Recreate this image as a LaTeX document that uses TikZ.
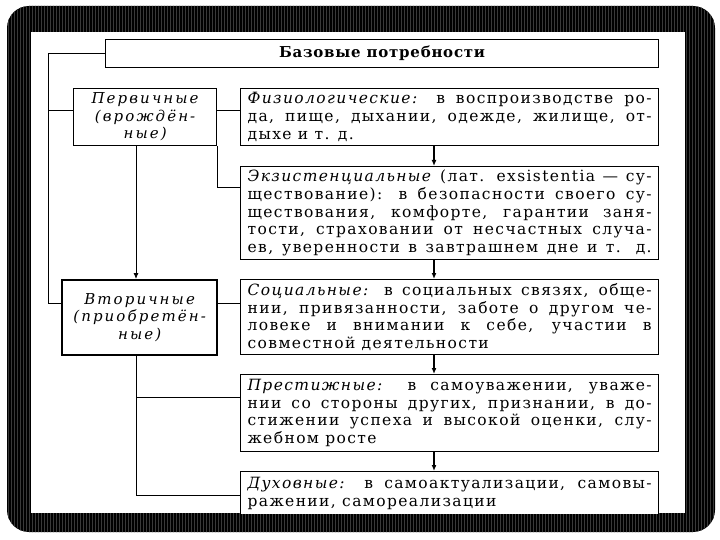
\documentclass[tikz,border=0pt]{standalone}
\usepackage{fontspec}
\setmainfont{DejaVu Serif}[LetterSpace=9]
\newfontfamily\sidefont{DejaVu Serif}[LetterSpace=14]
\newfontfamily\headfont{DejaVu Serif}[LetterSpace=5]
\usetikzlibrary{arrows.meta}
\newlength\jw
\setlength\jw{404pt}
\newcommand\jline[1]{\leavevmode\hbox to\jw{#1}}
\newcommand\bodyfont{\fontsize{15.5}{17.7}\selectfont}

\begin{document}
\begin{tikzpicture}[
    x=1pt, y=-1pt,
    titlebox/.style={
        draw, line width=1.2pt,
        anchor=north west,
        minimum width=553pt, minimum height=28pt,
        font=\headfont\bfseries\fontsize{15}{17}\selectfont
    },
    needbox/.style={
        draw, line width=1.2pt, fill=white,
        anchor=north west,
        text width=404pt,
        inner xsep=7pt, inner ysep=0pt,
        align=justify,
        font=\bodyfont
    },
    sidebox/.style={
        draw, line width=1.2pt, fill=white,
        anchor=north west,
        inner sep=0pt,
        align=center,
        font=\sidefont\itshape\fontsize{15}{17.5}\selectfont
    },
    link/.style={line width=0.9pt},
    thinarrow/.style={line width=0.9pt, -{Latex[length=6pt,width=5pt]}},
    flow/.style={line width=2pt, -{Latex[length=6pt,width=5pt]}}
]
\useasboundingbox (0,0) rectangle (720,540);

\begin{scope}
\clip[rounded corners=22pt] (7,6) rectangle (715,532);
\fill[black] (0,0) rectangle (720,540);
\foreach \sx in {8,11,...,714}
    \draw[gray!45!black, line width=1pt] (\sx,0) -- (\sx,540);
\end{scope}
\fill[white] (31,32) rectangle (685,513);

\begin{scope}
\clip (31,32) rectangle (685,513);
\node[titlebox] (base) at (105,39) {Базовые потребности};

\node[sidebox, minimum width=143pt, minimum height=57pt, text width=135pt]
    (perv) at (73,88) {Первичные\\(врождён-\\ные)};
\node[sidebox, minimum width=155pt, minimum height=75pt, text width=147pt,
    line width=2.2pt] (vtor) at (61,279) {Вторичные\\(приобретён-\\ные)};

\node[needbox, minimum height=57pt] (fiz) at (240,88) {%
    \jline{\textit{Физиологические:} в воспроизводстве ро-}\\
    \jline{да, пище, дыхании, одежде, жилище, от-}\\
    дыхе и т. д.};
\node[needbox, minimum height=93pt] (ekz) at (240,166) {%
    \jline{\textit{Экзистенциальные} (лат. exsistentia — су-}\\
    \jline{ществование): в безопасности своего су-}\\
    \jline{ществования, комфорте, гарантии заня-}\\
    \jline{тости, страховании от несчастных случа-}\\
    \jline{ев, уверенности в завтрашнем дне и т. д.}};
\node[needbox, minimum height=75pt] (soc) at (240,279) {%
    \jline{\textit{Социальные:} в социальных связях, обще-}\\
    \jline{нии, привязанности, заботе о другом че-}\\
    \jline{ловеке и внимании к себе, участии в}\\
    совместной деятельности};
\node[needbox, minimum height=77pt] (prest) at (240,374) {%
    \jline{\textit{Престижные:} в самоуважении, уваже-}\\
    \jline{нии со стороны других, признании, в до-}\\
    \jline{стижении успеха и высокой оценки, слу-}\\
    жебном росте};
\node[needbox, minimum height=44pt] (dukh) at (240,471) {%
    \jline{\textit{Духовные:} в самоактуализации, самовы-}\\
    ражении, самореализации};

\coordinate (spine) at (48,0);
\coordinate (trunk) at (136,0);
\coordinate (stem) at (434,0);
\coordinate (pj) at ([yshift=6.5pt]perv.west);
\coordinate (vj) at ([yshift=14.5pt]vtor.west);
\coordinate (ej) at ([yshift=-21pt]ekz.north west);
\coordinate (prj) at ([yshift=-23pt]prest.north west);
\coordinate (dj) at ([yshift=-24pt]dukh.north west);

\draw[link] (base.west) -| (spine |- vj) -- (vj);
\draw[link] (spine |- pj) -- (pj);
\draw[link] (pj -| perv.east) -- (pj -| fiz.west);
\draw[link] (perv.south east) |- (ej);
\draw[link] (vj -| vtor.east) -- (vj -| soc.west);
\draw[thinarrow] (trunk |- perv.south) -- (trunk |- vtor.north);
\draw[link] (trunk |- vtor.south) |- (dj);
\draw[link] (trunk |- prj) -- (prj);
\foreach \a/\b in {fiz/ekz, ekz/soc, soc/prest, prest/dukh}
    \draw[flow] (stem |- \a.south) -- (stem |- \b.north);
\end{scope}
\end{tikzpicture}
\end{document}
